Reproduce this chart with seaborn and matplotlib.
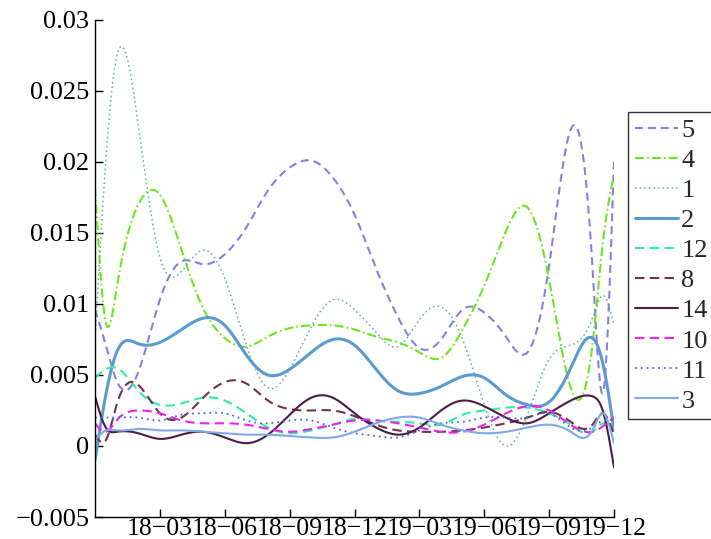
import numpy as np
import pandas as pd
import matplotlib
matplotlib.use("Agg")
import matplotlib.pyplot as plt
from matplotlib import font_manager as fm
import seaborn as sns

# ---------------- data ----------------
months = [0, 0.5, 1, 2, 3, 4, 5, 6, 7, 8, 9, 10, 11, 12,
          13, 14, 15, 16, 17, 18, 19, 20, 21, 22, 23, 23.5, 24]
x_ticks = [3, 6, 9, 12, 15, 18, 21, 24]
x_tick_labels = ["18\u221203", "18\u221206", "18\u221209", "18\u221212",
                 "19\u221203", "19\u221206", "19\u221209", "19\u221212"]
y_ticks = [-0.005, 0, 0.005, 0.01, 0.015, 0.02, 0.025, 0.03]
y_tick_labels = ["\u22120.005", "0", "0.005", "0.01", "0.015", "0.02", "0.025", "0.03"]

s5 = [0.0096, 0.0071, 0.0046, 0.0052, 0.0103, 0.0130, 0.0128, 0.0135, 0.0154,
      0.0180, 0.0196, 0.0201, 0.0189, 0.0163, 0.0125, 0.0091, 0.0069, 0.0075,
      0.0096, 0.0094, 0.0077, 0.0066, 0.0127, 0.0223, 0.0127, 0.0038, 0.0201]
s4 = [0.0182, 0.0087, 0.0111, 0.0170, 0.0177, 0.0138, 0.0097, 0.0076, 0.0070,
      0.0077, 0.0083, 0.0085, 0.0085, 0.0082, 0.0077, 0.0073, 0.0066, 0.0062,
      0.0082, 0.0113, 0.0151, 0.0168, 0.0117, 0.0041, 0.0071, 0.0145, 0.0191]
s1 = [0.0075, 0.0201, 0.0274, 0.0226, 0.0133, 0.0123, 0.0138, 0.0118, 0.0071,
      0.0041, 0.0054, 0.0084, 0.0103, 0.0096, 0.0080, 0.0070, 0.0089, 0.0098,
      0.0075, 0.0029, 0.0000, 0.0022, 0.0061, 0.0071, 0.0090, 0.0106, 0.0085]
s2 = [-0.0010, 0.0036, 0.0066, 0.0072, 0.0073, 0.0082, 0.0090, 0.0085, 0.0064,
      0.0050, 0.0054, 0.0066, 0.0075, 0.0071, 0.0054, 0.0039, 0.0037, 0.0042,
      0.0049, 0.0048, 0.0036, 0.0029, 0.0031, 0.0055, 0.0076, 0.0057, 0.0011]
s12 = [0.0048, 0.0054, 0.0055, 0.0039, 0.0029, 0.0030, 0.0034, 0.0032, 0.0023,
       0.0013, 0.0009, 0.0011, 0.0015, 0.0019, 0.0018, 0.0017, 0.0016, 0.0015,
       0.0022, 0.0025, 0.0027, 0.0027, 0.0023, 0.0015, 0.0010, 0.0016, 0.0013]
s8 = [0.0008, 0.0004, 0.0029, 0.0043, 0.0023, 0.0020, 0.0034, 0.0045, 0.0044,
      0.0032, 0.0026, 0.0025, 0.0025, 0.0021, 0.0015, 0.0011, 0.0010, 0.0010,
      0.0011, 0.0013, 0.0016, 0.0020, 0.0024, 0.0017, 0.0015, 0.0023, 0.0008]
s14 = [0.0035, 0.0013, 0.0010, 0.0009, 0.0005, 0.0008, 0.0010, 0.0006, 0.0002,
       0.0008, 0.0022, 0.0034, 0.0034, 0.0023, 0.0013, 0.0008, 0.0013, 0.0025,
       0.0032, 0.0028, 0.0020, 0.0016, 0.0023, 0.0032, 0.0035, 0.0024, -0.0015]
s10 = [0.0016, 0.0010, 0.0018, 0.0025, 0.0023, 0.0018, 0.0016, 0.0016, 0.0015,
       0.0012, 0.0010, 0.0012, 0.0015, 0.0018, 0.0018, 0.0016, 0.0013, 0.0010,
       0.0010, 0.0015, 0.0023, 0.0028, 0.0025, 0.0015, 0.0010, 0.0014, 0.0020]
s11 = [0.0020, 0.0020, 0.0020, 0.0020, 0.0018, 0.0022, 0.0023, 0.0023, 0.0018,
       0.0016, 0.0018, 0.0018, 0.0013, 0.0009, 0.0007, 0.0006, 0.0011, 0.0016,
       0.0017, 0.0020, 0.0020, 0.0020, 0.0023, 0.0013, 0.0013, 0.0018, 0.0018]
s3 = [0.0004, 0.0011, 0.0011, 0.0012, 0.0011, 0.0011, 0.0010, 0.0009, 0.0008,
      0.0008, 0.0007, 0.0006, 0.0006, 0.0010, 0.0016, 0.0020, 0.0020, 0.0015,
      0.0011, 0.0009, 0.0010, 0.0013, 0.0015, 0.0010, 0.0011, 0.0023, 0.0002]

series_names = ["5", "4", "1", "2", "12", "8", "14", "10", "11", "3"]
series_values = [s5, s4, s1, s2, s12, s8, s14, s10, s11, s3]

# ---------------- styles ----------------
colors = ["#8282e6", "#6ee61e", "#5fae9b", "#5b9bd0", "#30eea2",
          "#6e3150", "#4b1c47", "#ee22ee", "#4a6ad8", "#80a9e6"]
styles = [(0, (3.8, 2.4)), (0, (4.3, 1.5, 0.8, 1.5)), (0, (1, 2.0)), "-",
          (0, (4.5, 2.6)), (0, (4.5, 2.6)), "-", (0, (4.5, 2.6)), (0, (1, 2.2)), "-"]
widths = [1.5, 1.5, 1.1, 2.2, 1.5, 1.5, 1.5, 1.5, 1.3, 1.5]


def smooth_curve(x, y, n=800):
    """Natural cubic spline through the read points (the reference uses smooth curves)."""
    x = np.asarray(x, float)
    y = np.asarray(y, float)
    k = len(x)
    h = np.diff(x)
    A = np.zeros((k, k))
    b = np.zeros(k)
    A[0, 0] = 1.0
    A[-1, -1] = 1.0
    for i in range(1, k - 1):
        A[i, i - 1] = h[i - 1]
        A[i, i] = 2 * (h[i - 1] + h[i])
        A[i, i + 1] = h[i]
        b[i] = 3 * ((y[i + 1] - y[i]) / h[i] - (y[i] - y[i - 1]) / h[i - 1])
    c = np.linalg.solve(A, b)
    xs = np.linspace(x[0], x[-1], n)
    idx = np.clip(np.searchsorted(x, xs, side="right") - 1, 0, k - 2)
    dx = xs - x[idx]
    hi = h[idx]
    bb = (y[idx + 1] - y[idx]) / hi - hi * (2 * c[idx] + c[idx + 1]) / 3
    dd = (c[idx + 1] - c[idx]) / (3 * hi)
    ys = y[idx] + bb * dx + c[idx] * dx ** 2 + dd * dx ** 3
    return xs, ys


sns.set_style("ticks")

# find a Times-like serif font
serif_name = None
for path in fm.findSystemFonts():
    base = path.split("/")[-1].lower()
    if base.startswith("liberationserif-regular"):
        fm.fontManager.addfont(path)
        serif_name = fm.FontProperties(fname=path).get_name()
        break
if serif_name is None:
    serif_name = "Liberation Serif"
plt.rcParams["font.family"] = [serif_name, "DejaVu Serif"]
plt.rcParams["axes.unicode_minus"] = True

fig = plt.figure(figsize=(7.11, 5.39), dpi=100)
ax = fig.add_axes([95 / 711, 1 - 517 / 539, (614 - 95) / 711, (517 - 20) / 539])

for name, vals, col, ls, lw in zip(series_names, series_values, colors, styles, widths):
    xs, ys = smooth_curve(months, vals)
    df = pd.DataFrame({"month": xs, "value": ys})
    sns.lineplot(data=df, x="month", y="value", ax=ax, color=col,
                 linestyle=ls, linewidth=lw, label=name, sort=False,
                 estimator=None)

ax.set_xlim(0, 24)
ax.set_ylim(-0.005, 0.03)
ax.set_xticks(x_ticks)
ax.set_xticklabels(x_tick_labels)
ax.set_yticks(y_ticks)
ax.set_yticklabels(y_tick_labels)
ax.set_xlabel("")
ax.set_ylabel("")
ax.tick_params(direction="in", length=6, width=1, colors="black")
ax.tick_params(axis="x", pad=0.5, labelsize=18.5)
ax.tick_params(axis="y", pad=4, labelsize=19)
for side in ["top", "right"]:
    ax.spines[side].set_visible(False)
for side in ["left", "bottom"]:
    ax.spines[side].set_linewidth(1.0)
    ax.spines[side].set_color("black")

leg = ax.legend(loc="upper left", bbox_to_anchor=(628 / 711, 1 - 112 / 539),
                bbox_transform=fig.transFigure, fontsize=19, frameon=True,
                fancybox=False, edgecolor="black", handlelength=1.65,
                handletextpad=0.12, labelspacing=0.25, borderpad=0.25,
                borderaxespad=0.0)
leg.get_frame().set_linewidth(1.0)

fig.savefig("out.png", dpi=100)
